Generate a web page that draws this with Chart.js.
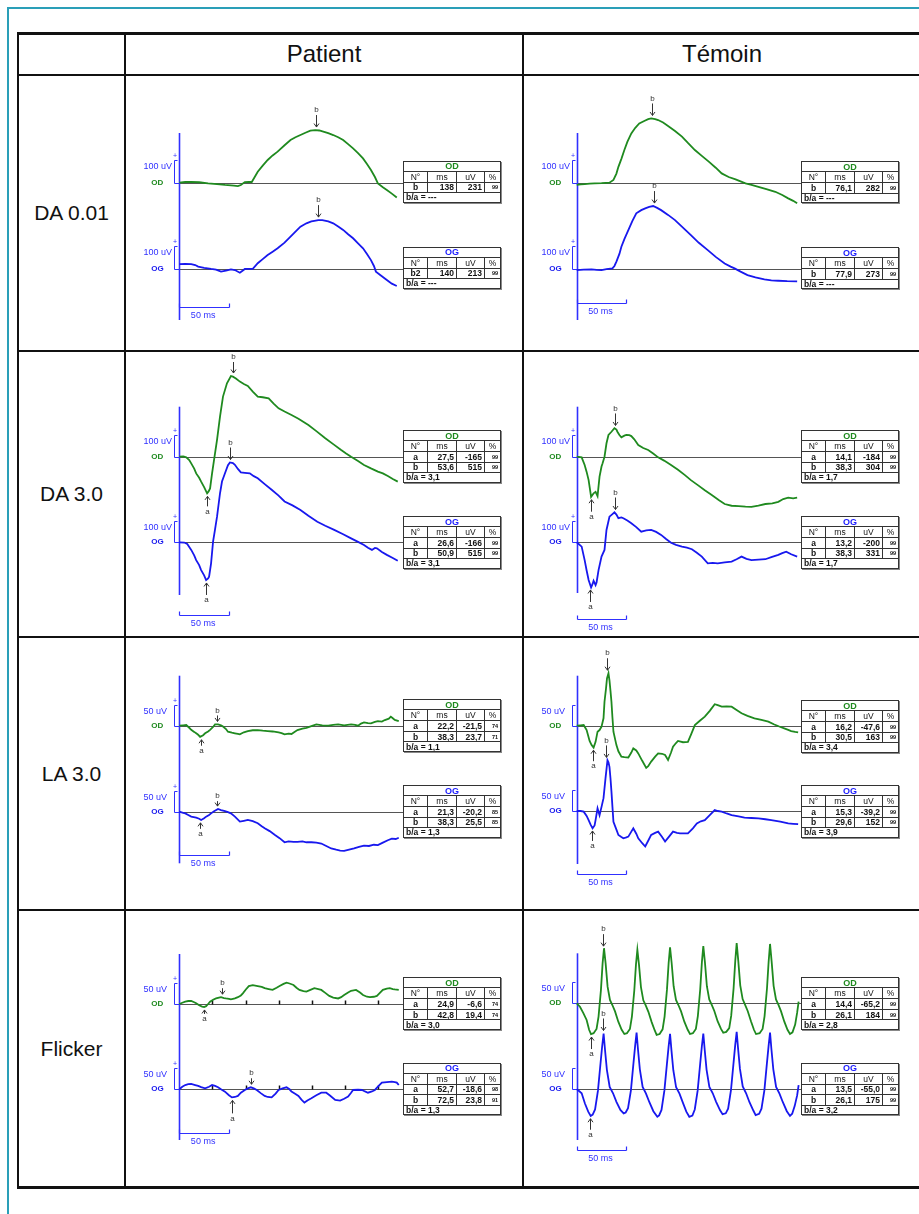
<!DOCTYPE html>
<html lang="fr">
<head>
<meta charset="utf-8">
<title>ERG Patient / Témoin</title>
<script src="https://cdn.jsdelivr.net/npm/chart.js@4.4.1/dist/chart.umd.min.js"></script>
<style>
  html, body { margin: 0; padding: 0; background: #fff; }
  #page { position: relative; width: 919px; height: 1214px; overflow: hidden; font-family: "Liberation Sans", Arial, sans-serif; }
  .rule { position: absolute; background: #111; }
  .teal { position: absolute; background: #2a9fb8; }
  .head { position: absolute; text-align: center; font-size: 24px; color: #111; }
  .rowlab { position: absolute; text-align: center; font-size: 21px; color: #111; }
  .cell { position: absolute; }
  .cell canvas { position: absolute; left: 0; top: 0; }
  table.res { position: absolute; border-collapse: collapse; table-layout: fixed; width: 97px; background: #fff;
              font-family: "Liberation Sans", Arial, sans-serif; color: #111; box-shadow: 1px 1px 0 #888; }
  table.res td { border: 1px solid #333; padding: 0 2px; line-height: 8px; font-size: 8.5px; white-space: nowrap; overflow: hidden; }
  table.res tr.tt td { height: 9px; text-align: center; font-weight: bold; font-size: 9px; }
  table.res tr.hd td { height: 10px; text-align: center; }
  table.res tr.dt td { height: 9.5px; font-weight: bold; }
  table.res td.w { text-align: center; }
  table.res td.n { text-align: right; }
  table.res td.p { text-align: right; font-size: 5.5px; }
  table.res tr.ba td { height: 8.5px; font-weight: bold; text-align: left; }
</style>
</head>
<body>
<div id="page"></div>
<script>
// ---------- data ----------
const protocols = ['DA 0.01', 'DA 3.0', 'LA 3.0', 'Flicker'];
const groups = ['Patient', 'Témoin'];
const uvBars = [100, 100, 50, 50];   // amplitude scale bar for each protocol (uV)
const msBar = 50;                     // time scale bar (ms)
const flickerTicks = [33.3, 66.7, 100, 133.3, 166.7, 200];

// traces: [ms, uV]
const da001PatientOD = [[0,0],[6,3],[12,4],[20,2],[29,-3],[38,-6],[46,-10],[55,-13],[59,-15],[62,-10],[66,3],[70,4],[73,3],[79,48],[84,75],[89,100],[94,120],[99,137],[106,165],[112,188],[117,200],[122,210],[127,220],[132,229],[137,232],[141,230],[145,225],[150,218],[155,210],[160,200],[165,188],[170,170],[175,151],[180,130],[185,107],[189,82],[193,56],[197,25],[200,-3],[205,-20],[209,-32],[214,-48],[219,-65]];
const da001PatientOG = [[0,20],[6,21],[12,20],[16,16],[19,9],[25,4],[32,-1],[37,-4],[42,-13],[47,-8],[52,-3],[56,-6],[61,-18],[64,-8],[66,-1],[70,-1],[74,-1],[79,24],[84,42],[89,60],[94,75],[99,90],[106,115],[112,141],[117,163],[122,185],[128,200],[133,208],[136,211],[140,214],[144,214],[150,208],[155,200],[160,186],[165,171],[170,152],[175,134],[180,112],[185,90],[189,65],[193,38],[196,12],[198,-13],[203,-30],[209,-50],[214,-66],[219,-76]];
const da001TemoinOD = [[0,-10],[4,-7],[8,-6],[13,-4],[18,-3],[25,-2],[33,0],[37,12],[40,40],[42,70],[45,105],[48,144],[51,180],[55,217],[59,242],[63,261],[68,272],[72,280],[75,283],[79,280],[82,276],[87,265],[92,250],[99,228],[106,203],[112,175],[119,144],[126,118],[133,93],[140,66],[146,41],[153,25],[160,15],[165,6],[170,-3],[176,-10],[183,-18],[191,-28],[200,-40],[207,-54],[213,-69],[218,-80],[222,-91]];
const da001TemoinOG = [[0,-6],[7,-4],[15,-3],[20,-5],[25,-6],[30,-2],[36,1.5],[38,12],[40,31],[43,65],[45,97],[48,130],[52,170],[56,210],[60,244],[65,258],[69,266],[73,272],[77,276],[81,268],[85,258],[92,237],[99,214],[107,181],[115,148],[123,114],[132,82],[140,52],[149,23],[155,9],[159,1.5],[165,-13],[172,-28],[180,-38],[189,-47],[196,-51],[203,-53],[212,-55],[222,-56]];

const da3PatientOD = [[0,0],[4,1],[7,-3],[10,-15],[12,-31],[15,-55],[17,-77],[20,-97],[22,-115],[25,-140],[28,-169],[29.5,-160],[31,-146],[33,-77],[35,-15],[38,77],[41,185],[44,277],[48,338],[52,372],[54,369],[57,360],[61,346],[65,335],[69,326],[74,300],[79,277],[84,274],[90,269],[95,245],[100,223],[106,208],[113,192],[120,175],[130,146],[138,118],[147,85],[155,58],[163,31],[168,15],[173,0],[180,-20],[186,-38],[193,-54],[200,-69],[205,-77],[210,-89],[215,-103],[220,-115]];
const da3PatientOG = [[0,0],[5,-1],[8,-8],[12,-35],[15,-60],[17,-82],[20,-105],[22,-128],[25,-152],[27,-174],[29,-166],[30,-158],[32,-97],[34,3],[36,60],[38,118],[41,226],[43,280],[46,318],[49,355],[51,368],[54,365],[56,357],[59,338],[62,322],[66,320],[71,318],[75,305],[79,295],[86,268],[93,242],[100,215],[106,188],[114,170],[122,149],[130,122],[139,95],[147,76],[156,57],[165,37],[173,18],[180,2],[186,-12],[190,-25],[194,-35],[197,-26],[199,-28],[204,-45],[209,-58],[215,-72],[220,-85]];
const da3TemoinOD = [[0,0],[5,-3],[8,-38],[10,-70],[12,-108],[14.5,-185],[16,-175],[17,-169],[19,-162],[21,-182],[23,-92],[25,-45],[26,-31],[28,0],[30,62],[32,100],[35,115],[38,131],[40,125],[41,115],[43,100],[45,89],[48,97],[50,100],[53,99],[55,95],[58,80],[62,54],[67,40],[72,31],[77,15],[82,-3],[88,-18],[95,-38],[102,-60],[109,-85],[115,-108],[122,-131],[129,-155],[136,-177],[143,-200],[149,-218],[156,-226],[163,-228],[170,-230],[176,-231],[183,-225],[190,-218],[197,-215],[203,-208],[208,-195],[213,-189],[218,-192],[222,-189]];
const da3TemoinOG = [[0,0],[5,-20],[8,-82],[10,-130],[12,-174],[14.5,-208],[16,-192],[17,-177],[19,-197],[20,-185],[22,-128],[25,-66],[28,-35],[30,57],[33,118],[36,130],[38,138],[40,128],[42,111],[45,115],[47,111],[51,100],[55,88],[60,70],[65,49],[70,55],[75,57],[80,48],[85,34],[90,15],[95,-2],[100,-12],[106,-20],[111,-25],[116,-32],[121,-48],[126,-66],[132,-97],[137,-95],[142,-97],[149,-93],[156,-89],[161,-78],[166,-66],[171,-76],[176,-82],[183,-80],[190,-78],[196,-68],[203,-58],[207,-50],[211,-43],[216,-55],[222,-66]];

const la3PatientOD = [[0,0],[4,1],[7,1.6],[10,-5],[12,-10],[15,-15],[17,-18.5],[19,-22],[21,-27],[24,-23],[26,-18.5],[29,-14],[31,-10],[34,-3],[36,3],[39,3],[42,1],[44,-2],[47,-8],[49,-14.5],[53,-17],[56,-18.5],[59,-20],[61,-21],[65,-16],[69,-13],[74,-11],[79,-10.5],[84,-12],[89,-13],[94,-14],[100,-16],[103,-18],[106,-21],[110,-19],[113,-20],[116,-15],[119,-10.5],[124,-7],[128,-5],[133,-1],[138,3],[144,1],[150,0],[155,2],[160,3],[166,1],[173,3],[177,2],[180,0],[183,5],[186,8],[190,6],[193,5.6],[197,9],[200,11],[204,10],[207,13.7],[211,17],[213,22],[215,18],[217,14],[221,11]];
const la3PatientOG = [[0,0],[3,-2],[6,-4],[9,-8],[12,-12],[17,-14.5],[20,-17],[22,-20],[25,-16],[27,-12],[30,-8],[32,-4],[35,1],[39,6.5],[42,4],[46,1.6],[49,-1],[52,-4],[56,-12],[61,-24],[65,-22],[69,-20],[74,-23],[79,-28],[83,-35],[86,-40],[91,-47],[96,-56],[101,-64],[106,-74],[110,-72],[115,-73],[119,-73],[124,-72],[128,-74],[133,-74],[138,-75],[143,-77],[148,-83],[153,-89],[158,-92],[162,-94],[166,-95],[171,-92],[176,-89],[181,-85],[186,-82],[191,-83],[196,-80],[200,-81],[205,-75],[210,-69],[214,-65],[218,-66],[221,-63]];
const la3TemoinOD = [[0,0],[4,1],[7,1.6],[10,-10.5],[13,-37],[15,-47],[17,-53],[19,-39],[21,-14.5],[23,-10.5],[25,-2.4],[27,18],[28,58],[29.5,90],[30.5,114.5],[32,127],[33,110],[34,85],[35,58],[36,20],[37,-14.5],[40,-47],[42,-62],[45,-75],[48,-76],[52,-77],[55,-65],[57,-55],[60,-60],[62,-67],[66,-85],[70,-102],[72,-98],[75,-87],[79,-75],[82,-67],[86,-68],[89,-71],[92,-83],[95,-65],[97,-51],[100,-42],[102,-37],[107,-40],[112,-39],[115,-22],[119,1.6],[124,12],[129,22],[134,36],[139,52],[142,50],[146,46],[151,47],[156,46],[161,38],[166,30],[172,24],[179,18],[186,14],[193,10],[199,3],[204,-2],[209,-6.5],[213,-10],[216,-13],[220,-15],[223,-16]];
const la3TemoinOG = [[0,0],[4,0],[7,-1.6],[10,-12],[12,-22],[14,-33],[16,-42],[18,-35],[19,-22],[21,6.5],[23,-10],[25,10],[27,31],[29,79],[31,123],[32,118],[33,107],[34,80],[35,47],[36,10],[37,-26],[40,-45],[42,-58],[45,-63],[47,-66],[50,-64],[52,-62],[55,-50],[57,-42],[60,-55],[62,-66],[66,-78],[69,-86],[72,-72],[75,-58],[79,-53],[82,-50],[86,-63],[89,-74],[93,-62],[97,-50],[101,-53],[104,-54],[108,-54],[112,-54],[117,-42],[121,-30],[125,-25],[129,-22],[134,-10],[139,2.4],[142,0],[146,-1.6],[151,-6],[156,-10],[163,-13],[169,-16],[176,-17],[183,-18],[190,-20],[196,-22],[205,-26],[213,-30],[218,-31],[223,-32]];

const flkPatientOD = [[0,0],[3,3],[6,5.5],[9,7],[12,7],[15,4],[17,1.6],[20,-3],[23,-6],[25,-7],[27,-5],[29,0],[31,5.5],[34,10],[37,13],[40,15],[42,16],[45,14],[47,13],[50,12],[52,11],[56,13],[59,16],[62,20],[64,25],[67,34],[70,42],[74,44],[79,42],[83,40],[86,37],[90,35],[94,33],[98,38],[101,42],[105,47],[108,50],[111,48],[115,44.5],[118,38],[121,33],[125,30],[128,29],[132,33],[136,37],[140,35],[143,33],[147,26],[151,19],[155,15],[160,13],[163,16],[166,21],[170,27],[173,31],[178,33],[182,27],[185,21],[189,17],[192,16],[196,17],[199,19],[202,26],[205,33],[209,36],[212,37],[215,35],[217,34],[221,33]];
const flkPatientOG = [[0,0],[3,6],[6,10],[9,12],[12,12.5],[16,10],[19,8],[22,5],[26,2.3],[30,6],[33,10],[36,8],[39,4.7],[42,0],[46,-5.5],[50,-14],[53,-19],[56,-18],[59,-15.6],[62,-8],[66,-1.6],[69,2],[72,4.7],[75,2],[78,-1.6],[82,-9],[86,-15.6],[89,-18],[93,-19],[97,-10],[100,-1.6],[104,2],[108,4.7],[111,0],[113,-5.5],[117,-11],[120,-15.6],[123,-24],[126,-31],[129,-26],[133,-21],[138,-14],[143,-8],[148,-8],[152,-15],[157,-25],[162,-26.5],[166,-22],[170,-17],[173,-8],[175,-1.6],[180,-1],[184,-1.6],[187,-5],[190,-8],[194,-5],[197,-1.6],[200,6],[204,15.6],[209,17],[214,18],[217,17],[219,15.6],[221,10]];
const flkTemoinOD = [[0,0],[3.3,-8],[6.7,-23],[10,-39],[12.5,-62],[14.4,-72],
  [17,-70],[20,-60],[22,-31],[24.4,31],[26.1,94],[27.5,129],[29.1,94],[31.1,39],[33.5,8],[35.9,-4],[38.6,-19],[41.9,-43],[45.3,-62],[48,-72],
  [50.6,-70],[53.6,-60],[55.6,-31],[58,30],[59.7,91],[61.1,125],[62.7,91],[64.7,38],[67.1,7],[69.5,-5],[72.2,-20],[75.5,-44],[78.5,-63],[80.5,-74],
  [83.5,-72],[86.5,-61],[88.5,-31],[90.9,32],[92.6,95],[94,131],[95.6,95],[97.6,40],[100,8],[102.4,-4],[105.1,-19],[108.4,-43],[111.8,-62],[114.1,-72],
  [117,-70],[120,-60],[122,-30],[124.4,33],[126.1,97],[127.5,134],[129.1,97],[131.1,40],[133.5,9],[135.9,-3],[138.6,-18],[141.9,-42],[145.3,-60],[147.6,-69],
  [150.6,-67],[153.6,-58],[155.6,-29],[158,35],[159.7,100],[161.1,141],[162.7,100],[164.7,42],[167.1,10],[169.5,-3],[172.2,-18],[175.5,-42],[178.5,-62],[180.6,-72],
  [184.2,-70],[187.2,-60],[189.2,-30],[191.6,34],[193.3,98],[194.7,139],[196.3,98],[198.3,41],[200.7,9],[203.1,-3],[205.8,-19],[209.1,-43],[212.3,-62],[214.8,-72],
  [217.3,-68],[220,-50],[222,-22],[223.5,4]];
const flkTemoinOG = [[0,0],[5,-10],[8.3,-34],[11.6,-53],[14.1,-63],
  [16.1,-60],[18.5,-48],[21.4,-4],[23.9,58],[25.6,99],[27.1,130],[28.5,92],[30.4,45],[33.2,5],[36.6,-10],[40,-30],[44,-49],[47.3,-57],
  [49.3,-55],[51.7,-45],[54.6,-3],[57.1,59],[58.8,100],[60.3,132],[61.7,93],[63.6,46],[66.4,5],[69.8,-11],[73.2,-31],[77.2,-52],[81.2,-65],
  [83,-62],[85.4,-49],[88.3,-4],[90.8,57],[92.5,98],[94,129],[95.4,91],[97.3,44],[100.1,4],[103.5,-11],[106.9,-32],[110.4,-53],[113.4,-65],
  [116.5,-62],[118.9,-48],[121.8,-4],[124.3,58],[126,99],[127.5,130],[128.9,92],[130.8,45],[133.6,5],[137,-10],[140.4,-30],[144.4,-50],[146.9,-59],
  [150.1,-57],[152.5,-46],[155.4,-2],[157.9,60],[159.6,102],[161.1,134],[162.5,95],[164.4,47],[167.2,6],[170.6,-10],[174,-31],[178,-51],[180.2,-61],
  [183.7,-58],[186.1,-46],[189,-3],[191.5,59],[193.2,100],[194.7,132],[196.1,93],[198,46],[200.8,5],[204.2,-11],[207.6,-31],[211.6,-52],[214.8,-63],
  [217,-58],[219.5,-40],[222,-15],[223.5,9]];

// result tables: [N°, ms, uV, %]
const da001PatientODRes = [['b', '138', '231', '99']];
const da001PatientOGRes = [['b2', '140', '213', '99']];
const da001TemoinODRes = [['b', '76,1', '282', '99']];
const da001TemoinOGRes = [['b', '77,9', '273', '99']];
const da3PatientODRes = [['a', '27,5', '-165', '99'], ['b', '53,6', '515', '99']];
const da3PatientOGRes = [['a', '26,6', '-166', '99'], ['b', '50,9', '515', '99']];
const da3TemoinODRes = [['a', '14,1', '-184', '99'], ['b', '38,3', '304', '99']];
const da3TemoinOGRes = [['a', '13,2', '-200', '99'], ['b', '38,3', '331', '99']];
const la3PatientODRes = [['a', '22,2', '-21,5', '74'], ['b', '38,3', '23,7', '71']];
const la3PatientOGRes = [['a', '21,3', '-20,2', '85'], ['b', '38,3', '25,5', '85']];
const la3TemoinODRes = [['a', '16,2', '-47,6', '99'], ['b', '30,5', '163', '99']];
const la3TemoinOGRes = [['a', '15,3', '-39,2', '99'], ['b', '29,6', '152', '99']];
const flkPatientODRes = [['a', '24,9', '-6,6', '74'], ['b', '42,8', '19,4', '74']];
const flkPatientOGRes = [['a', '52,7', '-18,6', '98'], ['b', '72,5', '23,8', '91']];
const flkTemoinODRes = [['a', '14,4', '-65,2', '99'], ['b', '26,1', '184', '99']];
const flkTemoinOGRes = [['a', '13,5', '-55,0', '99'], ['b', '26,1', '175', '99']];
// b/a ratios [OD, OG]
const da001PatientRatio = ['---', '---'];
const da001TemoinRatio = ['---', '---'];
const da3PatientRatio = ['3,1', '3,1'];
const da3TemoinRatio = ['1,7', '1,7'];
const la3PatientRatio = ['1,1', '1,3'];
const la3TemoinRatio = ['3,4', '3,9'];
const flkPatientRatio = ['3,0', '1,3'];
const flkTemoinRatio = ['2,8', '3,2'];

const cells = [
  { od: da001PatientOD, og: da001PatientOG, odRes: da001PatientODRes, ogRes: da001PatientOGRes, ratio: da001PatientRatio },
  { od: da001TemoinOD, og: da001TemoinOG, odRes: da001TemoinODRes, ogRes: da001TemoinOGRes, ratio: da001TemoinRatio },
  { od: da3PatientOD, og: da3PatientOG, odRes: da3PatientODRes, ogRes: da3PatientOGRes, ratio: da3PatientRatio },
  { od: da3TemoinOD, og: da3TemoinOG, odRes: da3TemoinODRes, ogRes: da3TemoinOGRes, ratio: da3TemoinRatio },
  { od: la3PatientOD, og: la3PatientOG, odRes: la3PatientODRes, ogRes: la3PatientOGRes, ratio: la3PatientRatio },
  { od: la3TemoinOD, og: la3TemoinOG, odRes: la3TemoinODRes, ogRes: la3TemoinOGRes, ratio: la3TemoinRatio },
  { od: flkPatientOD, og: flkPatientOG, odRes: flkPatientODRes, ogRes: flkPatientOGRes, ratio: flkPatientRatio },
  { od: flkTemoinOD, og: flkTemoinOG, odRes: flkTemoinODRes, ogRes: flkTemoinOGRes, ratio: flkTemoinRatio }
];

// ---------- layout (pixels, relative to each cell) ----------
const colX = [18, 125, 523, 921];
const rowY = [33, 75, 351, 637, 910, 1187];
const PX_MS = 0.993;
const TAB_X = 278;
const layouts = [
  { ax: 54.3, pxUv: 0.227, bOD: 107.7, bOG: 193.7, axTop: 58, axBot: 245, msY: 232.3, tOD: 85.7, tOG: 171.7, plus: true, arOD: {b: 12}, arOG: {b: 12} },
  { ax: 53.7, pxUv: 0.227, bOD: 107.7, bOG: 193.7, axTop: 58, axBot: 245, msY: 228.3, tOD: 86, tOG: 172.3, plus: true, arOD: {b: 12}, arOG: {b: 12} },
  { ax: 54.3, pxUv: 0.217, bOD: 105.7, bOG: 191.3, axTop: 55.7, axBot: 244, msY: 264, tOD: 79, tOG: 165, plus: true, arOD: {a: 10, b: 11}, arOG: {a: 12, b: 12} },
  { ax: 53.7, pxUv: 0.217, bOD: 105.7, bOG: 191.3, axTop: 55.7, axBot: 242, msY: 268.3, tOD: 79, tOG: 165, plus: true, arOD: {a: 12, b: 12}, arOG: {a: 12, b: 12} },
  { ax: 54.3, pxUv: 0.413, bOD: 88.7, bOG: 174.7, axTop: 38.7, axBot: 226.3, msY: 218, tOD: 62.3, tOG: 148, plus: true, arOD: {a: 6, b: 6}, arOG: {a: 6, b: 5} },
  { ax: 53.7, pxUv: 0.413, bOD: 88.7, bOG: 174, axTop: 38.7, axBot: 227, msY: 237, tOD: 63, tOG: 148, plus: false, arOD: {a: 11, b: 12}, arOG: {a: 10, b: 12} },
  { ax: 54.3, pxUv: 0.427, bOD: 94, bOG: 179.3, axTop: 44, axBot: 230, msY: 222.7, tOD: 67.3, tOG: 152.7, plus: true, ticks: true, arOD: {a: 4, b: 6}, arOG: {a: 13, b: 6} },
  { ax: 53.7, pxUv: 0.427, bOD: 93.3, bOG: 179, axTop: 43.3, axBot: 230, msY: 240, tOD: 67.3, tOG: 152.7, plus: false, arOD: {a: 12, b: 12}, arOG: {a: 11, b: 12} }
];

const GREEN = '#1f8a1f', BLUE = '#1818ee', AX_BLUE = '#3030ff', FONT = '"Liberation Sans", Arial, sans-serif';

// ---------- page frame and grid ----------
const page = document.getElementById('page');
function box(cls, l, t, w, h, parent) {
  const d = document.createElement('div');
  d.className = cls;
  Object.assign(d.style, { left: l + 'px', top: t + 'px', width: w + 'px', height: h + 'px' });
  (parent || page).appendChild(d);
  return d;
}

box('teal', 7, 7, 920, 1.5);
box('teal', 7, 7, 1.5, 1210);
rowY.forEach((y, i) => box('rule', colX[0] - 1, y - 1, colX[3] - colX[0] + 2, (i === 0 || i === rowY.length - 1) ? 2.5 : 2));
colX.forEach(x => box('rule', x - 1, rowY[0], 2, rowY[rowY.length - 1] - rowY[0]));

groups.forEach((g, c) => {
  const h = rowY[1] - rowY[0];
  const d = box('head', colX[c + 1], rowY[0], colX[c + 2] - colX[c + 1], h);
  d.style.lineHeight = h + 'px';
  d.textContent = g;
});
protocols.forEach((p, r) => {
  const h = rowY[r + 2] - rowY[r + 1];
  const d = box('rowlab', colX[0], rowY[r + 1], colX[1] - colX[0], h);
  d.style.lineHeight = h + 'px';
  d.textContent = p;
});

// ---------- helpers ----------
function seg(ctx, x1, y1, x2, y2) {
  ctx.beginPath(); ctx.moveTo(x1, y1); ctx.lineTo(x2, y2); ctx.stroke();
}
function valueAt(series, t) {
  for (let i = 1; i < series.length; i++) {
    if (series[i][0] >= t) {
      const [x0, y0] = series[i - 1], [x1, y1] = series[i];
      return y0 + (y1 - y0) * (t - x0) / (x1 - x0);
    }
  }
  return series[series.length - 1][1];
}
function extremum(series, t, max) {
  let best = valueAt(series, t);
  for (let d = -2; d <= 2; d += 0.5) {
    const v = valueAt(series, t + d);
    best = max ? Math.max(best, v) : Math.min(best, v);
  }
  return best;
}

function makeDecor(L, cell, uvBar) {
  return {
    id: 'ergDecor',
    beforeDatasetsDraw(chart) {
      const ctx = chart.ctx, sx = chart.scales.x;
      const ax = Math.round(sx.getPixelForValue(0)) + 0.5;
      ctx.save();
      [['yOD', 'OD', GREEN], ['yOG', 'OG', BLUE]].forEach(([id, name, col]) => {
        const sy = chart.scales[id];
        const y0 = Math.round(sy.getPixelForValue(0)) + 0.5;
        const yb = Math.round(sy.getPixelForValue(uvBar)) + 0.5;
        // baseline
        ctx.strokeStyle = '#555'; ctx.lineWidth = 1.2;
        seg(ctx, ax, y0, TAB_X, y0);
        // flicker stimulus marks
        if (L.ticks) {
          ctx.strokeStyle = '#111'; ctx.lineWidth = 1.5;
          flickerTicks.forEach(t => {
            const tx = Math.round(sx.getPixelForValue(t)) + 0.5;
            seg(ctx, tx, y0, tx, y0 - 4);
          });
        }
        // amplitude bar
        const bx = ax - 5;
        ctx.strokeStyle = AX_BLUE; ctx.lineWidth = 1;
        seg(ctx, bx, y0, bx, yb); seg(ctx, bx, yb, bx + 3, yb); seg(ctx, bx, y0, ax, y0);
        ctx.fillStyle = AX_BLUE; ctx.textBaseline = 'middle'; ctx.textAlign = 'left';
        ctx.font = '9px ' + FONT;
        ctx.fillText(uvBar + ' uV', ax - 36, yb + 6);
        if (L.plus) {
          ctx.textAlign = 'center'; ctx.font = '7px ' + FONT;
          ctx.fillText('+', bx + 0.5, yb - 4);
        }
        ctx.fillStyle = col; ctx.font = 'bold 8px ' + FONT; ctx.textAlign = 'left';
        ctx.fillText(name, ax - 28.3, y0 - 1);
      });
      // vertical axis
      ctx.strokeStyle = AX_BLUE; ctx.lineWidth = 1.6;
      seg(ctx, ax, L.axTop, ax, L.axBot);
      // time bar
      const xe = Math.round(sx.getPixelForValue(msBar)) + 0.5;
      const my = Math.round(L.msY) + 0.5;
      ctx.lineWidth = 1.2;
      seg(ctx, ax, my, xe, my); seg(ctx, xe, my, xe, my - 4); seg(ctx, ax, my, ax, my - 4);
      ctx.fillStyle = AX_BLUE; ctx.font = '9px ' + FONT; ctx.textAlign = 'center'; ctx.textBaseline = 'middle';
      ctx.fillText(msBar + ' ms', sx.getPixelForValue(msBar / 2) - 1, my + 8);
      ctx.restore();
    },
    afterDatasetsDraw(chart) {
      const ctx = chart.ctx, sx = chart.scales.x;
      ctx.save();
      ctx.strokeStyle = '#333'; ctx.fillStyle = '#333'; ctx.lineWidth = 1;
      ctx.font = '8px ' + FONT; ctx.textAlign = 'center';
      [['yOD', cell.od, cell.odRes, L.arOD], ['yOG', cell.og, cell.ogRes, L.arOG]].forEach(([id, series, res, lens]) => {
        const sy = chart.scales[id];
        res.forEach(row => {
          const wave = row[0].charAt(0);
          const t = parseFloat(row[1].replace(',', '.'));
          const isB = wave === 'b';
          const v = extremum(series, t, isB);
          const x = Math.round(sx.getPixelForValue(t)) + 0.5;
          const yv = sy.getPixelForValue(v);
          const len = lens[wave];
          if (isB) {
            const tip = yv - 3, tail = tip - len;
            seg(ctx, x, tail, x, tip);
            ctx.beginPath(); ctx.moveTo(x - 2.5, tip - 3.5); ctx.lineTo(x, tip); ctx.lineTo(x + 2.5, tip - 3.5); ctx.stroke();
            ctx.textBaseline = 'bottom';
            ctx.fillText('b', x, tail - 1);
          } else {
            const tip = yv + 3, tail = tip + len;
            seg(ctx, x, tail, x, tip);
            ctx.beginPath(); ctx.moveTo(x - 2.5, tip + 3.5); ctx.lineTo(x, tip); ctx.lineTo(x + 2.5, tip + 3.5); ctx.stroke();
            ctx.textBaseline = 'top';
            ctx.fillText('a', x, tail + 1);
          }
        });
      });
      ctx.restore();
    }
  };
}

function resultTable(parent, x, y, name, color, rows, ratio) {
  const t = document.createElement('table');
  t.className = 'res';
  t.style.left = x + 'px';
  t.style.top = y + 'px';
  let html = '<colgroup><col style="width:24px"><col style="width:29px"><col style="width:28px"><col style="width:16px"></colgroup>';
  html += '<tr class="tt"><td colspan="4" style="color:' + color + '">' + name + '</td></tr>';
  html += '<tr class="hd"><td>N°</td><td>ms</td><td>uV</td><td>%</td></tr>';
  rows.forEach(r => {
    html += '<tr class="dt"><td class="w">' + r[0] + '</td><td class="n">' + r[1] + '</td><td class="n">' + r[2] + '</td><td class="p">' + r[3] + '</td></tr>';
  });
  html += '<tr class="ba"><td colspan="4">b/a = ' + ratio + '</td></tr>';
  t.innerHTML = html;
  parent.appendChild(t);
}

// ---------- charts ----------
cells.forEach((cell, i) => {
  const r = Math.floor(i / 2), c = i % 2;
  const L = layouts[i];
  const w = colX[c + 2] - colX[c + 1], h = rowY[r + 2] - rowY[r + 1];
  const holder = box('cell', colX[c + 1], rowY[r + 1], w, h);
  const cv = document.createElement('canvas');
  cv.width = w; cv.height = h;
  cv.style.width = w + 'px'; cv.style.height = h + 'px';
  holder.appendChild(cv);

  const line = (data, axis, color, label) => ({
    label, yAxisID: axis,
    data: data.map(p => ({ x: p[0], y: p[1] })),
    borderColor: color, borderWidth: 1.8, pointRadius: 0, tension: 0, fill: false
  });

  new Chart(cv, {
    type: 'line',
    data: { datasets: [line(cell.od, 'yOD', GREEN, 'OD'), line(cell.og, 'yOG', BLUE, 'OG')] },
    options: {
      responsive: false, animation: false, devicePixelRatio: 1, events: [],
      layout: { padding: 0 },
      plugins: { legend: { display: false }, tooltip: { enabled: false } },
      scales: {
        x: { type: 'linear', display: false, bounds: 'data', min: -L.ax / PX_MS, max: (w - L.ax) / PX_MS },
        yOD: { type: 'linear', display: false, bounds: 'data', min: -(h - L.bOD) / L.pxUv, max: L.bOD / L.pxUv },
        yOG: { type: 'linear', display: false, bounds: 'data', min: -(h - L.bOG) / L.pxUv, max: L.bOG / L.pxUv }
      }
    },
    plugins: [makeDecor(L, cell, uvBars[r])]
  });

  resultTable(holder, TAB_X, L.tOD, 'OD', GREEN, cell.odRes, cell.ratio[0]);
  resultTable(holder, TAB_X, L.tOG, 'OG', '#2020ff', cell.ogRes, cell.ratio[1]);
});
</script>
</body>
</html>
